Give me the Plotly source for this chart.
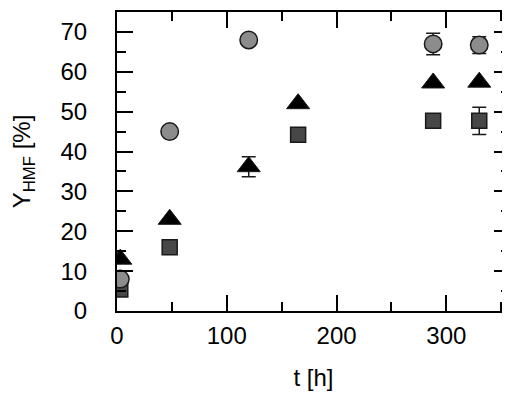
import plotly.graph_objects as go

# Data
t_circle = [3, 48, 120, 288, 330]
y_circle = [8.0, 45.0, 68.0, 67.0, 66.7]
e_circle = [0, 0, 0, 2.7, 2.1]

t_tri = [3, 48, 120, 165, 288, 330]
y_tri = [13.0, 23.0, 36.2, 52.0, 57.2, 57.4]
e_tri = [0, 0, 2.5, 0, 0, 0]

t_sq = [3, 48, 165, 288, 330]
y_sq = [5.4, 16.0, 44.2, 47.7, 47.7]
e_sq = [0, 0, 0, 0, 3.4]

font = "Liberation Sans, Arial, sans-serif"

fig = go.Figure()

def add(x, y, e, symbol, fill, size, lw):
    fig.add_trace(go.Scatter(
        x=x, y=y, mode="markers",
        marker=dict(symbol=symbol, size=size, color=fill,
                    line=dict(color="#1a1a1a", width=lw)),
        error_y=dict(type="data", array=e, visible=True, color="#1a1a1a",
                     thickness=1.5, width=7),
        showlegend=False,
    ))

add(t_sq, y_sq, e_sq, "square", "#474747", 15, 1.5)
add(t_tri, y_tri, e_tri, "triangle-up", "#000000", 20, 1)
add(t_circle, y_circle, e_circle, "circle", "#8c8c8c", 17.5, 1.5)

axis_common = dict(
    showline=True, linecolor="black", linewidth=2, mirror="allticks",
    ticks="inside", ticklen=16, tickwidth=2, tickcolor="black",
    showgrid=False, zeroline=False,
    tickfont=dict(family=font, size=24, color="black"),
)

fig.update_xaxes(range=[0, 358], dtick=100, tick0=0,
                 minor=dict(dtick=50, ticklen=9, tickwidth=2, tickcolor="black", ticks="inside"),
                 ticklabelstandoff=2,
                 title=dict(text="t [h]", font=dict(family=font, size=24, color="black"), standoff=21),
                 **axis_common)
fig.update_yaxes(range=[0, 75], dtick=10, tick0=0,
                 minor=dict(dtick=5, ticklen=9, tickwidth=2, tickcolor="black", ticks="inside"),
                 ticklabelstandoff=23,
                 title=dict(text="Y<sub>HMF</sub> [%]", font=dict(family=font, size=24, color="black"), standoff=28),
                 **axis_common)

fig.update_layout(
    width=510, height=395,
    margin=dict(l=109, r=8, t=4, b=92, autoexpand=False),
    plot_bgcolor="white", paper_bgcolor="white",
)

fig.write_html("out.html")
